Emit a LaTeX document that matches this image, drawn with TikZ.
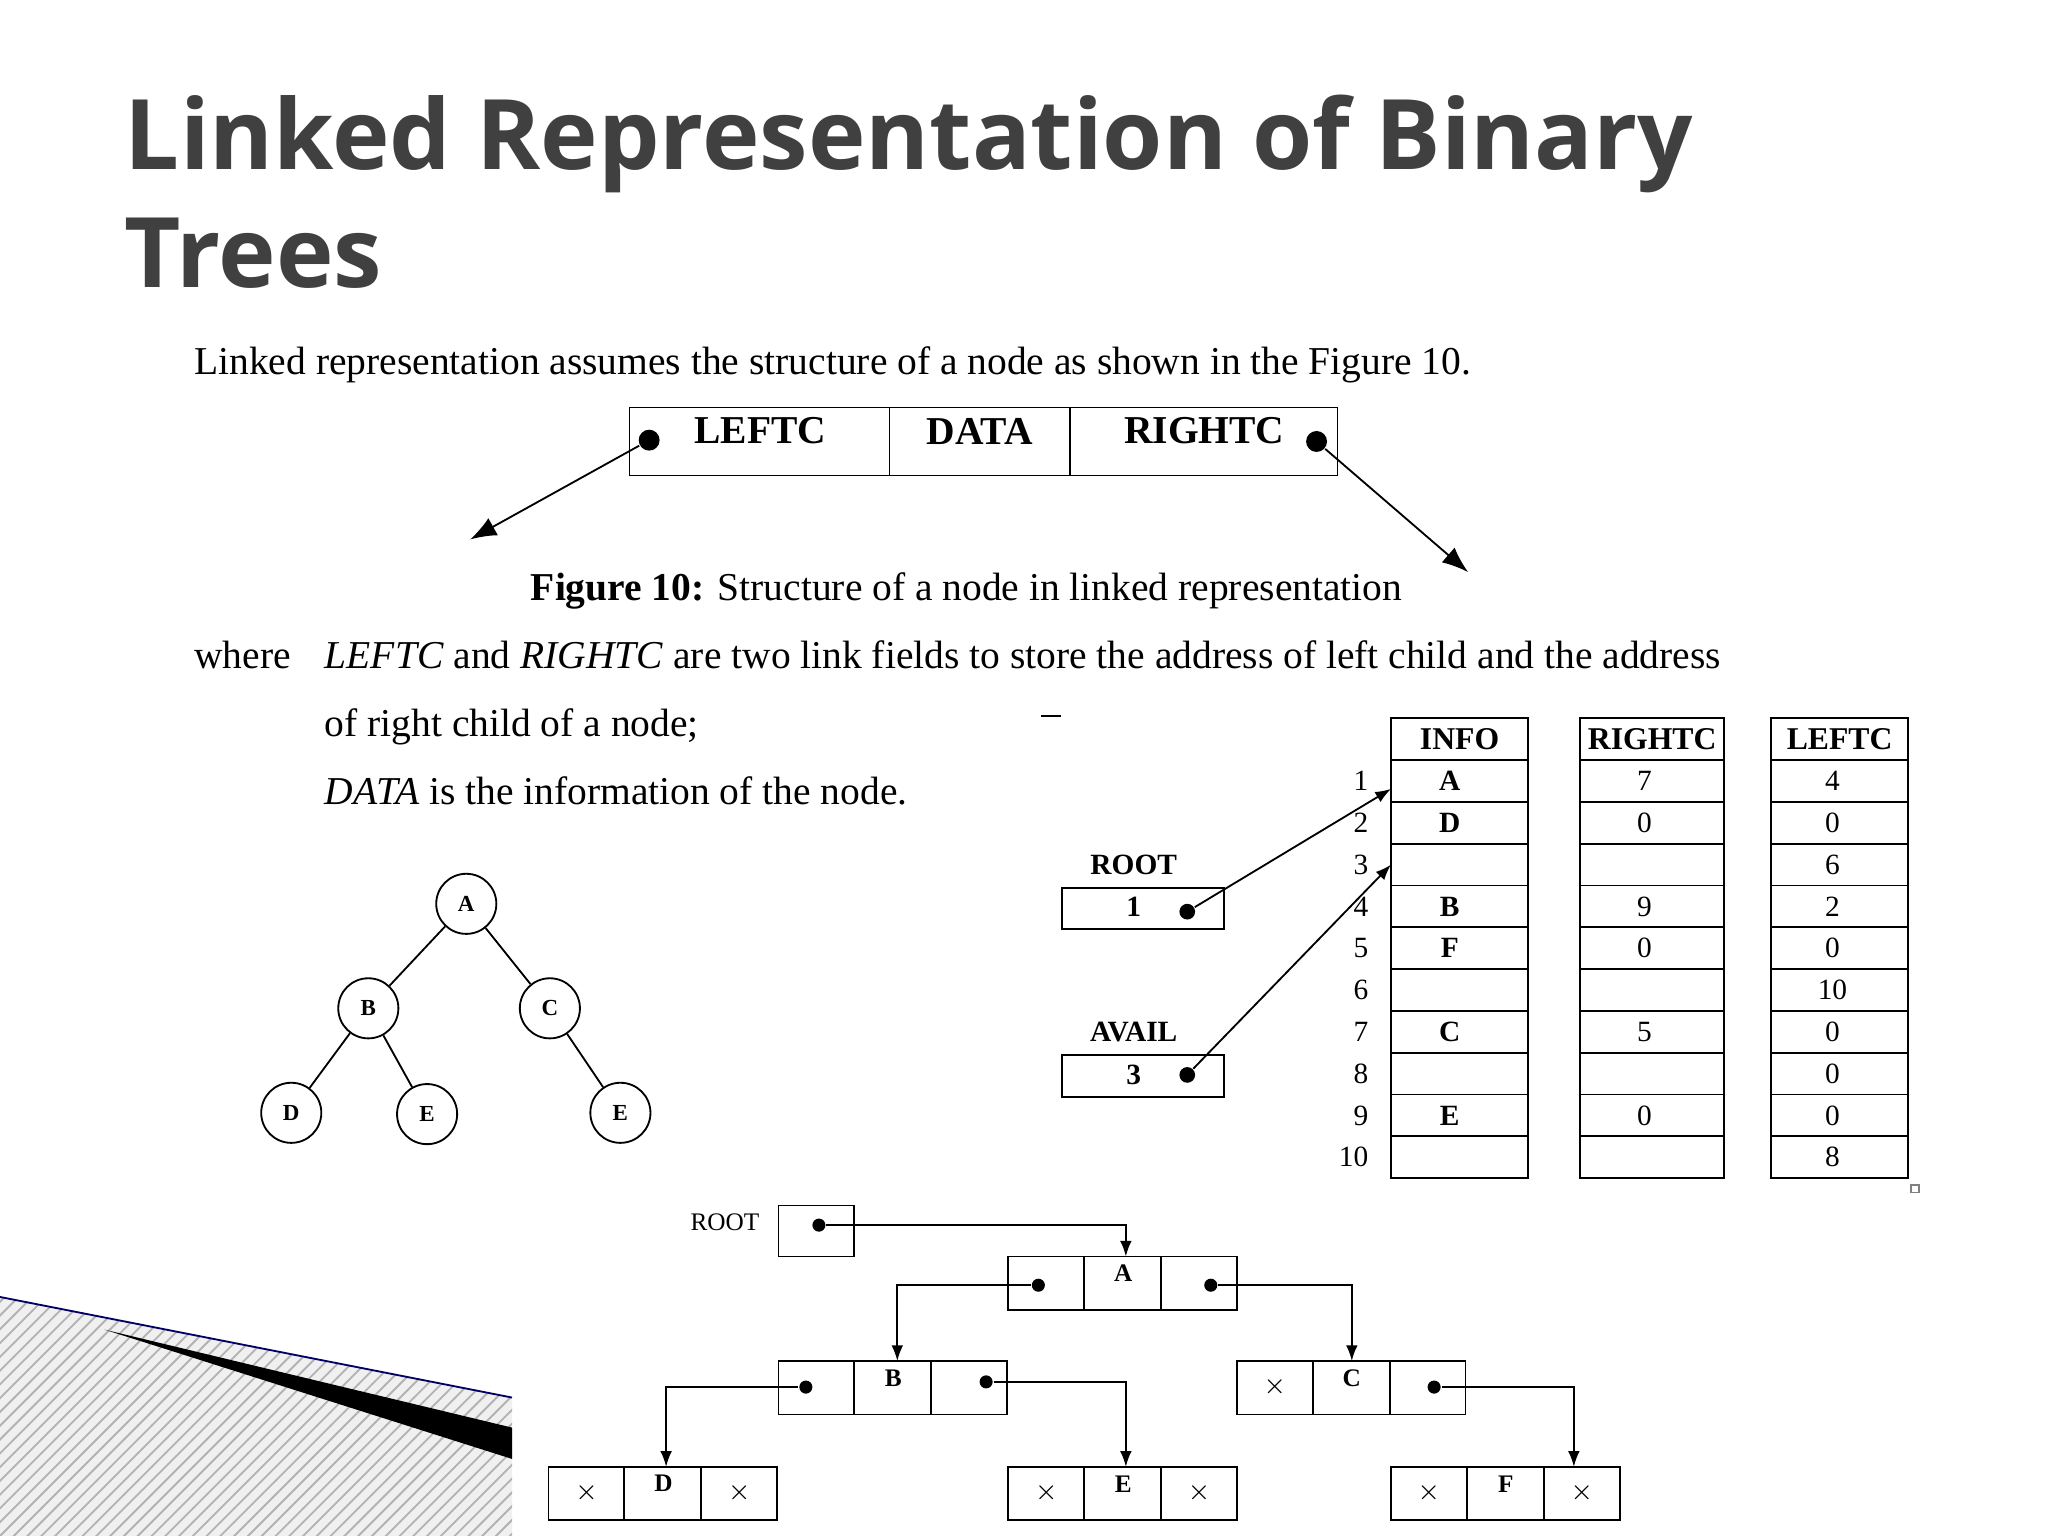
\documentclass[tikz,border=0pt]{standalone}
\usepackage{fontspec}
\setmainfont{Liberation Serif}
\newfontfamily\titlefont{Open Sans}
\usetikzlibrary{arrows.meta,patterns}
\definecolor{titlegray}{HTML}{404040}
\tikzset{
  body/.style={anchor=base west,inner sep=0pt,font=\fontsize{8.6}{9}\selectfont},
  cell/.style={font=\fontsize{6.4}{7}\selectfont},
  hcell/.style={font=\bfseries\fontsize{6.4}{7}\selectfont},
  tnode/.style={draw,circle,minimum size=0.46cm,inner sep=0pt,font=\bfseries\fontsize{5}{6}\selectfont},
  ptr/.style={-{Latex[length=1.2mm,width=0.9mm]}},
  bigptr/.style={-{Latex[length=2mm,width=1.5mm]}},
  dot/.style={circle,fill=black,inner sep=0pt,minimum size=1.2mm},
  small/.style={font=\fontsize{5.5}{6}\selectfont},
  smallb/.style={font=\bfseries\fontsize{5.5}{6}\selectfont}
}
\begin{document}
\begin{tikzpicture}[x=0.01cm,y=-0.01cm]
\useasboundingbox (0,0) rectangle (1568,1176);

% decoration bottom left
\fill[gray!12] (0,993) -- (392,1070) -- (392,1176) -- (0,1176) -- cycle;
\fill[pattern=north east lines,pattern color=gray!60] (0,993) -- (392,1070) -- (392,1176) -- (0,1176) -- cycle;
\fill[black] (80,1018) -- (392,1093) -- (392,1117) -- cycle;
\draw[blue!40!black,thin] (0,993) -- (392,1070);

% title
\node[anchor=base west,inner sep=0pt,text=titlegray,font=\titlefont\bfseries\fontsize{21.2}{26}\selectfont] (title1) at (95,130) {Linked Representation of Binary};
\node[anchor=base west,inner sep=0pt,text=titlegray,font=\titlefont\bfseries\fontsize{21.2}{26}\selectfont] (title2) at (95,220) {Trees};

% text
\node[body] (line1) at (148,287) {Linked representation assumes the structure of a node as shown in the Figure 10.};
\node[body,anchor=base] (caption) at (740,460) {\textbf{Figure 10:} Structure of a node in linked representation};
\node[body] (where) at (148,512) {where};
\node[body] (line2) at (248,512) {\textit{LEFTC} and \textit{RIGHTC} are two link fields to store the address of left child and the address};
\node[body] (line3) at (248,564) {of right child of a node;};
\node[body] (line4) at (248,616) {\textit{DATA} is the information of the node.};
\draw (797,548) -- (812,548);

% node structure
\draw (482,312) rectangle (1024,364);
\draw (681,312) -- (681,364) (819,312) -- (819,364);
\node[font=\bfseries\fontsize{8.6}{9}\selectfont] (lf) at (582,330) {LEFTC};
\node[font=\bfseries\fontsize{8.6}{9}\selectfont] (df) at (750,330) {DATA};
\node[font=\bfseries\fontsize{8.6}{9}\selectfont] (rf) at (922,330) {RIGHTC};
\node[dot,minimum size=1.6mm] (ldot) at (497,337) {};
\node[dot,minimum size=1.6mm] (rdot) at (1008,338) {};
\coordinate (lend) at (360,413);
\coordinate (rend) at (1124,438);
\draw[bigptr] (ldot) -- (lend);
\draw[bigptr] (rdot) -- (rend);

% tree
\node[tnode] (tA) at (357,692) {A};
\node[tnode] (tB) at (282,772) {B};
\node[tnode] (tC) at (421,772) {C};
\node[tnode] (tD) at (223,852) {D};
\node[tnode] (tE) at (327,853) {E};
\node[tnode] (tF) at (475,852) {E};
\draw (tA) -- (tB) (tA) -- (tC) (tB) -- (tD) (tB) -- (tE) (tC) -- (tF);

% table
\foreach \x/\w/\h in {1065/105/INFO,1210/110/RIGHTC,1356/105/LEFTC}{
  \draw (\x,550) rectangle ++(\w,32);
  \node[hcell,font=\bfseries\fontsize{6.9}{7}\selectfont] at (\x+\w/2,566) {\h};
  \foreach \r in {0,...,9}
    \draw (\x,582+32*\r) rectangle ++(\w,32);
}
\foreach \i/\inf/\rc/\lc [count=\r from 0] in {1/A/7/4,2/D/0/0,3///6,4/B/9/2,5/F/0/0,6///10,7/C/5/0,8///0,9/E/0/0,10///8}{
  \node[cell,anchor=east] at (1060,598+32*\r) {\i};
  \node[hcell] at (1110,598+32*\r) {\inf};
  \node[cell] at (1259,598+32*\r) {\rc};
  \node[cell] at (1403,598+32*\r) {\lc};
}
\draw[gray] (1463,907) rectangle (1469,913);

% ROOT and AVAIL
\node[hcell] (rootlbl) at (868,662) {ROOT};
\draw (813,680) rectangle (937,711);
\node[hcell] (rootval) at (868,694) {1};
\node[dot] (rootdot) at (909,698) {};
\coordinate (row1) at (1065,604);
\draw[ptr] (rootdot) -- (row1);
\node[hcell] (availlbl) at (868,790) {AVAIL};
\draw (813,808) rectangle (937,840);
\node[hcell] (availval) at (868,823) {3};
\node[dot] (availdot) at (909,823) {};
\coordinate (row3) at (1065,662);
\draw[ptr] (availdot) -- (row3);

% linked list
\node[small] (rl) at (555,936) {ROOT};
\draw (596,923) rectangle (654,962);
\node[dot,minimum size=1mm] (rd) at (627,938) {};
\foreach \x/\y/\a/\b/\c in {772/962/{}/A/{},596/1042/{}/B/{},947/1042/$\times$/C/{},420/1123/$\times$/D/$\times$,772/1123/$\times$/E/$\times$,1065/1123/$\times$/F/$\times$}{
  \draw (\x,\y) rectangle ++(175,41);
  \draw (\x+58,\y) -- ++(0,41) (\x+117,\y) -- ++(0,41);
  \node[small] at (\x+29,\y+20) {\a};
  \node[smallb] at (\x+88,\y+13) {\b};
  \node[small] at (\x+146,\y+20) {\c};
}
\node[dot,minimum size=1mm] (aL) at (795,984) {};
\node[dot,minimum size=1mm] (aR) at (927,984) {};
\node[dot,minimum size=1mm] (bL) at (617,1062) {};
\node[dot,minimum size=1mm] (bR) at (755,1058) {};
\node[dot,minimum size=1mm] (cR) at (1098,1062) {};
\coordinate (nA) at (862,962);
\coordinate (nB) at (687,1042);
\coordinate (nC) at (1035,1042);
\coordinate (nD) at (510,1123);
\coordinate (nE) at (862,1123);
\coordinate (nF) at (1205,1123);
\draw[ptr] (rd) -| (nA);
\draw[ptr] (aL) -| (nB);
\draw[ptr] (aR) -| (nC);
\draw[ptr] (bL) -| (nD);
\draw[ptr] (bR) -| (nE);
\draw[ptr] (cR) -| (nF);
\end{tikzpicture}
\end{document}
